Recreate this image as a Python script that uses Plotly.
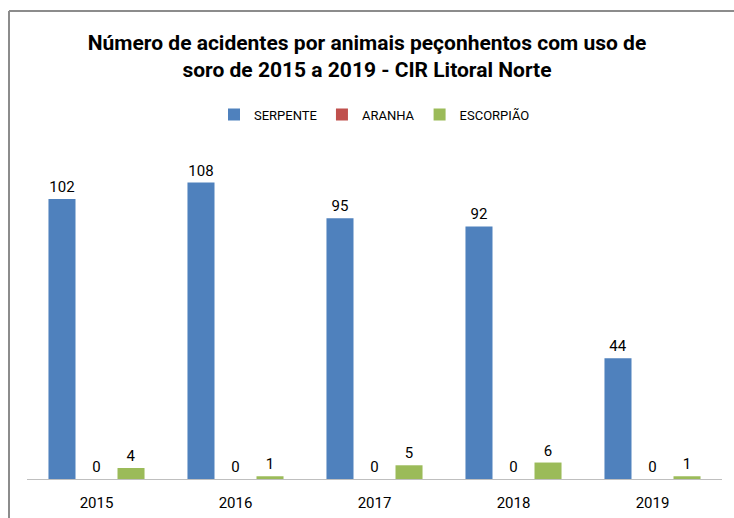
"""Acidentes por animais peçonhentos com uso de soro — CIR Litoral Norte (Plotly)"""

import plotly.graph_objects as go

# ─── Dados ────────────────────────────────────────────────────────────────────
anos = ["2015", "2016", "2017", "2018", "2019"]
serpente = [102, 108, 95, 92, 44]
aranha = [0, 0, 0, 0, 0]
escorpiao = [4, 1, 5, 6, 1]

FONT = "Liberation Sans Narrow, Roboto, Arial, sans-serif"
CORES = {"SERPENTE": "#4F81BD", "ARANHA": "#C0504D", "ESCORPIÃO": "#9BBB59"}

# plot area geometry (px) used for the outer border shape
W, H = 734, 518
L, R, T, B = 27, 12, 140, 39
PW, PH = W - L - R, H - T - B

fig = go.Figure()
for nome, vals in [("SERPENTE", serpente), ("ARANHA", aranha), ("ESCORPIÃO", escorpiao)]:
    fig.add_trace(go.Bar(
        x=anos, y=vals, name=nome,
        marker=dict(color=CORES[nome], line=dict(width=0)),
        text=[str(v) for v in vals], textposition="outside",
        textfont=dict(family=FONT, size=15, color="#000000"),
        cliponaxis=False,
    ))

fig.update_layout(
    width=W, height=H,
    paper_bgcolor="white", plot_bgcolor="white",
    margin=dict(l=L, r=R, t=T, b=B),
    barmode="group", bargap=0.255, bargroupgap=0.217,
    font=dict(family=FONT, size=14, color="#000000"),
    title=dict(
        text="<b>Número de acidentes por animais peçonhentos com uso de<br>soro de 2015 a 2019 - CIR Litoral Norte</b>",
        font=dict(family=FONT, size=21, color="#000000"),
        x=0.5, xanchor="center", y=0.904, yanchor="top",
    ),
    legend=dict(orientation="h", x=0.5, xanchor="center", y=1.075, yanchor="middle",
                font=dict(family=FONT, size=13), itemwidth=30, traceorder="normal"),
    showlegend=True,
)
fig.update_xaxes(showline=True, linecolor="#BFBFBF", linewidth=1, automargin=False,
                 ticks="outside", ticklen=10, tickcolor="rgba(0,0,0,0)",
                 tickfont=dict(family=FONT, size=15), showgrid=False)
fig.update_yaxes(range=[0, 123.5], visible=False, showgrid=False, zeroline=False)

# outer chart border (left and top edges visible)
x0 = (9 - L) / PW
y1 = (H - B - 11) / PH
fig.add_shape(type="line", xref="paper", yref="paper", x0=x0, x1=x0, y0=-1, y1=y1,
              line=dict(color="#8C8C8C", width=2))
fig.add_shape(type="line", xref="paper", yref="paper", x0=x0, x1=1.2, y0=y1, y1=y1,
              line=dict(color="#8C8C8C", width=2))

fig.write_html("out.html", config={"displayModeBar": False},
               post_script="document.body.style.margin='0px';")
